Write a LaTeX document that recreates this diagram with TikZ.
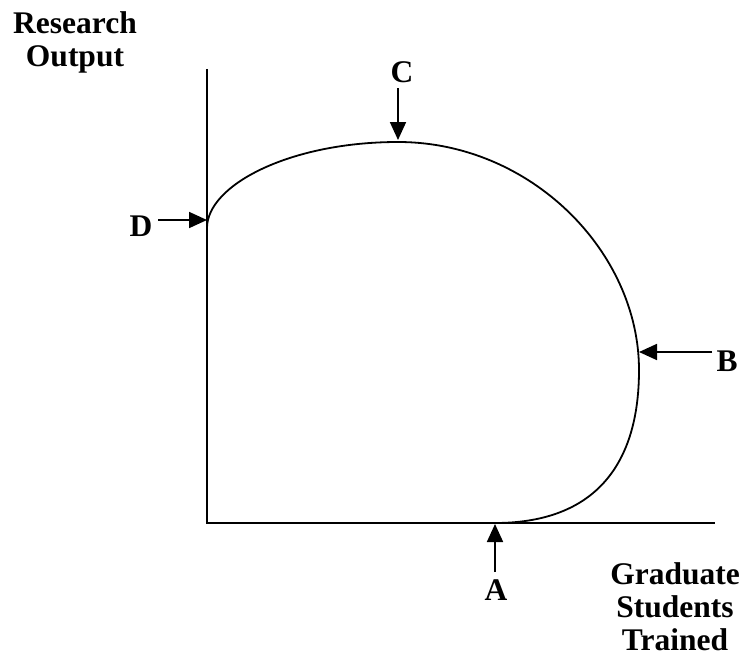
\documentclass[tikz,border=0pt]{standalone}
\usepackage{fontspec}
\setmainfont{Liberation Serif}
\usetikzlibrary{arrows.meta}
\tikzset{
  lbl/.style={font=\fontsize{31.5}{33}\selectfont\bfseries, inner sep=0pt, align=center},
  axisline/.style={line width=2pt},
  curveline/.style={line width=1.8pt},
  pointer/.style={line width=1.8pt, -{Triangle[length=18pt,width=16pt]}}
}
\begin{document}
\begin{tikzpicture}[x=1pt,y=-1pt]
\useasboundingbox (0,0) rectangle (744,669);
% axes
\coordinate (O) at (207,523);
\coordinate (ytop) at (207,69);
\coordinate (xend) at (715,523);
\draw[axisline] (ytop) -- (O) -- (xend);
% curve points
\coordinate (pD) at (207,228);
\coordinate (pC) at (398,142);
\coordinate (pB) at (639,370);
\coordinate (pA) at (495,523);
\draw[curveline] (pD) .. controls (207,185) and (290,142) .. (pC)
  .. controls (531,142) and (639,252) .. (pB)
  .. controls (639,470) and (590,523) .. (pA);
% labels
\node[lbl] (ro) at (75,42) {Research\\Output};
\node[lbl] (gst) at (675,607) {Graduate\\Students\\Trained};
\node[lbl] (C) at (402,72) {C};
\node[lbl] (D) at (141,226) {D};
\node[lbl] (B) at (727,361) {B};
\node[lbl] (A) at (496,590) {A};
% arrow start/end coordinates
\coordinate (cs) at (398,88);
\coordinate (ce) at (398,140);
\coordinate (ds) at (158,220);
\coordinate (de) at (207,220);
\coordinate (bs) at (712,352);
\coordinate (be) at (639,352);
\coordinate (as) at (495,572);
\coordinate (ae) at (495,524);
\draw[pointer] (cs) -- (ce);
\draw[pointer] (ds) -- (de);
\draw[pointer] (bs) -- (be);
\draw[pointer] (as) -- (ae);
\end{tikzpicture}
\end{document}
